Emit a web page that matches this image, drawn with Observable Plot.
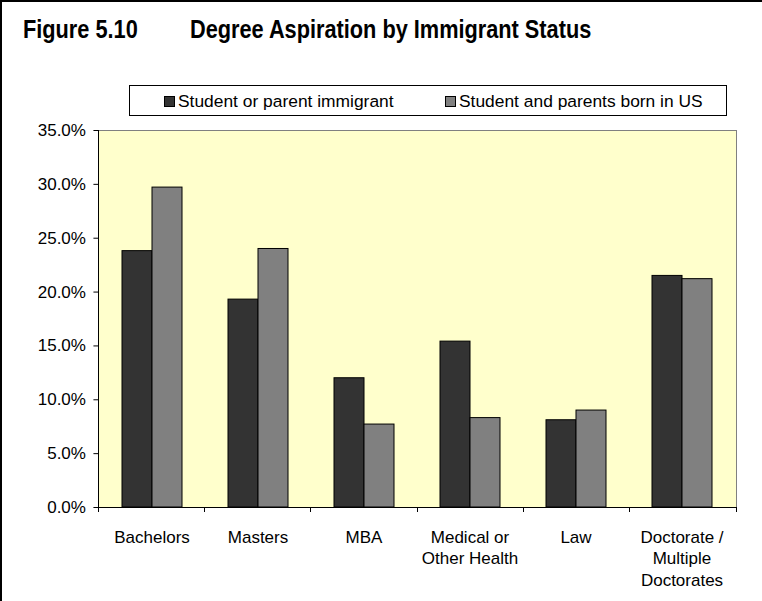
<!DOCTYPE html>
<html>
<head>
<meta charset="utf-8">
<script src="https://cdn.jsdelivr.net/npm/d3@7"></script>
<script src="https://cdn.jsdelivr.net/npm/@observablehq/plot@0.6"></script>
<style>
  html, body { margin: 0; padding: 0; background: #fff; }
  #page { position: relative; width: 762px; height: 601px; overflow: hidden; background: #fff;
          font-family: "Liberation Sans", Arial, sans-serif; color: #000; }
  .border-left { position: absolute; left: 0; top: 0; width: 2px; height: 601px; background: #000; }
  .border-top { position: absolute; left: 0; top: 0; width: 762px; height: 2px; background: #000; }
  .title { position: absolute; top: 15.9px; font-family: "Liberation Sans Narrow", "Arial Narrow", sans-serif;
           font-weight: bold; font-size: 26.5px; line-height: 1; white-space: nowrap; transform-origin: 0 0; }
  #legend { position: absolute; left: 129px; top: 85px; width: 596px; height: 29px; border: 1px solid #000;
            box-sizing: content-box; background: #fff; }
  .item { position: absolute; top: 1px; height: 29px; display: flex; align-items: center; font-size: 17.4px; white-space: nowrap; }
  .sw { width: 9px; height: 9px; border: 1px solid #000; margin-right: 3px; }
  #chart { position: absolute; left: 0; top: 120px; }
</style>
</head>
<body>
<div id="page">
  <div class="border-left"></div>
  <div class="border-top"></div>
  <div class="title" id="t1" style="left:23px">Figure 5.10</div>
  <div class="title" id="t2" style="left:190px">Degree Aspiration by Immigrant Status</div>
  <div id="legend"></div>
  <div id="chart"></div>
</div>
<script>
// ---- data ----
const categories = ["Bachelors", "Masters", "MBA", "Medical or Other Health", "Law", "Doctorate / Multiple Doctorates"];
const tickLabels = ["Bachelors", "Masters", "MBA", "Medical or\nOther Health", "Law", "Doctorate /\nMultiple\nDoctorates"];
const series = ["Student or parent immigrant", "Student and parents born in US"];
const immigrant = [23.8, 19.3, 12.0, 15.4, 8.1, 21.5];
const bornInUS = [29.7, 24.0, 7.7, 8.3, 9.0, 21.2];
const yTicks = [0, 5, 10, 15, 20, 25, 30, 35];
const colors = ["#333333", "#808080"];

const rows = categories.flatMap((c, i) => [
  {category: c, series: series[0], value: immigrant[i]},
  {category: c, series: series[1], value: bornInUS[i]}
]);

// ---- title font fallback ----
function hasFont(f) {
  const ctx = document.createElement("canvas").getContext("2d");
  const s = "Figure 5.10 Degree Aspiration";
  ctx.font = "bold 30px monospace";
  const a = ctx.measureText(s).width;
  ctx.font = `bold 30px '${f}', monospace`;
  return Math.abs(ctx.measureText(s).width - a) > 0.5;
}
if (!hasFont("Liberation Sans Narrow") && !hasFont("Arial Narrow")) {
  for (const id of ["t1", "t2"]) {
    const el = document.getElementById(id);
    el.style.fontFamily = "'Liberation Sans', Arial, sans-serif";
    el.style.transform = "scaleX(0.82)";
  }
}

// ---- legend ----
const legendLefts = [34, 315];
const legend = d3.select("#legend");
series.forEach((s, i) => {
  const it = legend.append("div").attr("class", "item").style("left", legendLefts[i] + "px");
  it.append("div").attr("class", "sw").style("background", colors[i]);
  it.append("span").text(s);
});

// ---- chart ----
const W = 762, H = 481, ML = 98, MR = 26, MT = 10, MB = 94;
const padIn = 0.4245, padOut = padIn / 2;
const outerGap = (W - ML - MR) / categories.length * padOut; // first facet starts this far from the y axis

const plot = Plot.plot({
  width: W,
  height: H,
  marginTop: MT,
  marginBottom: MB,
  marginLeft: ML,
  marginRight: MR,
  style: {fontFamily: "'Liberation Sans', Arial, sans-serif", fontSize: "17px", color: "#000", background: "transparent", overflow: "visible"},
  fx: {domain: categories, paddingInner: padIn, paddingOuter: padOut, label: null},
  x: {domain: series, padding: 0, axis: null},
  y: {domain: [0, 35], label: null},
  color: {domain: series, range: colors},
  marks: [
    Plot.axisY({ticks: yTicks, tickFormat: d => d.toFixed(1) + "%", tickSize: 5, tickPadding: 8, label: null, fontSize: 17, dx: -outerGap}),
    Plot.axisFx({anchor: "bottom", tickSize: 0, tickPadding: 20, label: null, fontSize: 17, lineHeight: 1.27,
                 tickFormat: d => tickLabels[categories.indexOf(d)]}),
    Plot.barY(rows, {fx: "category", x: "series", y: "value", fill: "series", stroke: "#000", strokeWidth: 1})
  ]
});

// plot-area background, frame and category boundary ticks from the scales
const fxS = plot.scale("fx");
const yS = plot.scale("y");
const [xa, xb] = fxS.range;
const [yb, yt] = yS.range;
const svg = d3.select(plot);
svg.insert("rect", ":first-child")
  .attr("x", xa).attr("y", yt).attr("width", xb - xa).attr("height", yb - yt).attr("fill", "#FFFFCC");
const g = svg.append("g").attr("fill", "none").attr("shape-rendering", "crispEdges");
g.append("line").attr("x1", xa).attr("x2", xb).attr("y1", yt).attr("y2", yt).attr("stroke", "#808080");
g.append("line").attr("x1", xb).attr("x2", xb).attr("y1", yt).attr("y2", yb).attr("stroke", "#808080");
g.append("line").attr("x1", xa).attr("x2", xa).attr("y1", yt).attr("y2", yb).attr("stroke", "#000");
g.append("line").attr("x1", xa).attr("x2", xb).attr("y1", yb).attr("y2", yb).attr("stroke", "#000");
const step = (xb - xa) / fxS.domain.length;
d3.range(fxS.domain.length + 1).forEach(i => {
  const x = xa + i * step;
  g.append("line").attr("x1", x).attr("x2", x).attr("y1", yb).attr("y2", yb + 5).attr("stroke", "#000");
});

document.getElementById("chart").appendChild(plot);
</script>
</body>
</html>
